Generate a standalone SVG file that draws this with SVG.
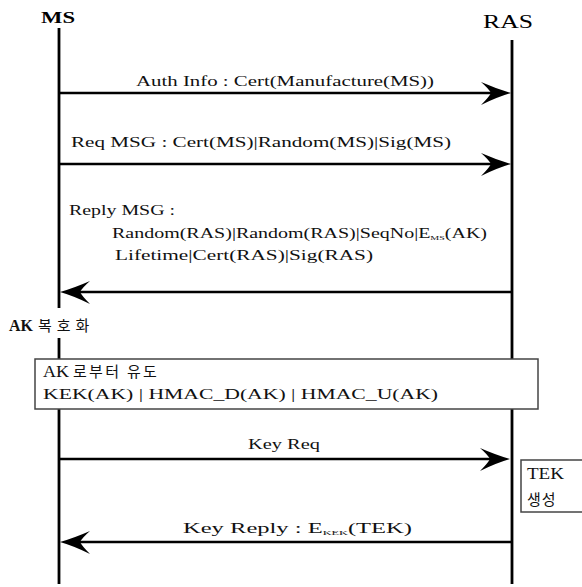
<svg xmlns="http://www.w3.org/2000/svg" width="582" height="587" viewBox="0 0 582 587">
<style>
.life{stroke:#000;stroke-width:2.8;fill:none}
.msg{stroke:#000;stroke-width:2.4;fill:none}
.lbl{font-family:"Liberation Serif","Noto Sans CJK KR",serif;font-size:14px;fill:#111}
.kr{font-family:"Noto Sans CJK KR",sans-serif;fill:#111}
.sub{font-size:7px}
.box{fill:#fff;stroke:#444;stroke-width:1.5}
</style>
<defs>
<path id="headR" d="M0,0 Q-14,-4 -30,-11 Q-22,-4 -20,0 Q-22,4 -30,12 Q-14,4 0,0 Z" fill="#000"/>
<path id="headL" d="M0,0 Q14,-4 30,-11 Q22,-4 20,0 Q22,4 30,12 Q14,4 0,0 Z" fill="#000"/>
</defs>
<rect width="582" height="587" fill="#fff"/>
<g id="MS">
<text x="41" y="23" style="font-family:'Liberation Serif',serif;font-size:17px;font-weight:bold" textLength="34" lengthAdjust="spacingAndGlyphs">MS</text>
<line class="life" x1="59" y1="28" x2="59" y2="308"/>
<line class="life" x1="59" y1="338" x2="59" y2="584"/>
</g>
<g id="RAS">
<text x="483" y="28" style="font-family:'Liberation Serif',serif;font-size:18px" textLength="50" lengthAdjust="spacingAndGlyphs">RAS</text>
<line class="life" x1="512" y1="40" x2="512" y2="584"/>
</g>
<g id="connectors">
<line class="msg" x1="59" y1="93" x2="495" y2="93"/>
<use href="#headR" x="511" y="93"/>
<text class="lbl" x="136" y="86" textLength="298" lengthAdjust="spacingAndGlyphs">Auth Info : Cert(Manufacture(MS))</text>
<line class="msg" x1="59" y1="164" x2="495" y2="164"/>
<use href="#headR" x="511" y="164"/>
<text class="lbl" x="71" y="147" textLength="380" lengthAdjust="spacingAndGlyphs">Req MSG : Cert(MS)|Random(MS)|Sig(MS)</text>
<line class="msg" x1="76" y1="292" x2="512" y2="292"/>
<use href="#headL" x="60" y="292"/>
<text class="lbl" x="69" y="215" textLength="106" lengthAdjust="spacingAndGlyphs">Reply MSG :</text>
<text class="lbl" x="112" y="238" textLength="375" lengthAdjust="spacingAndGlyphs">Random(RAS)|Random(RAS)|SeqNo|E<tspan class="sub" dy="2">MS</tspan><tspan dy="-2">(AK)</tspan></text>
<text class="lbl" x="115" y="260" textLength="258" lengthAdjust="spacingAndGlyphs">Lifetime|Cert(RAS)|Sig(RAS)</text>
<line class="msg" x1="59" y1="459" x2="495" y2="459"/>
<use href="#headR" x="510" y="459"/>
<text class="lbl" x="248" y="449" textLength="72" lengthAdjust="spacingAndGlyphs">Key Req</text>
<line class="msg" x1="76" y1="542" x2="512" y2="542"/>
<use href="#headL" x="60" y="542"/>
<text class="lbl" x="183" y="533" textLength="229" lengthAdjust="spacingAndGlyphs">Key Reply : E<tspan class="sub" dy="2">KEK</tspan><tspan dy="-2">(TEK)</tspan></text>
</g>
<g id="ak-decrypt">
<text x="9" y="331" style="font-family:'Liberation Serif',serif;font-size:16px;font-weight:bold;fill:#111">AK</text>
<text x="38" y="331" class="kr" style="font-size:15px" letter-spacing="5">복호화</text>
</g>
<g id="derive-box">
<rect class="box" x="35" y="359" width="503" height="50"/>
<text x="43" y="377" class="lbl" style="font-size:16px" textLength="26" lengthAdjust="spacingAndGlyphs">AK</text>
<text x="73" y="377" class="kr" style="font-size:15px" letter-spacing="2.3">로부터 유도</text>
<text x="43" y="399" class="lbl" style="font-size:15px" textLength="395" lengthAdjust="spacingAndGlyphs">KEK(AK) | HMAC_D(AK) | HMAC_U(AK)</text>
</g>
<g id="tek-box">
<rect class="box" x="521" y="460" width="70" height="52"/>
<text x="527" y="479" class="lbl" style="font-size:16px" textLength="37" lengthAdjust="spacingAndGlyphs">TEK</text>
<text x="527" y="505" class="kr" style="font-size:15px" letter-spacing="1">생성</text>
</g>
</svg>
